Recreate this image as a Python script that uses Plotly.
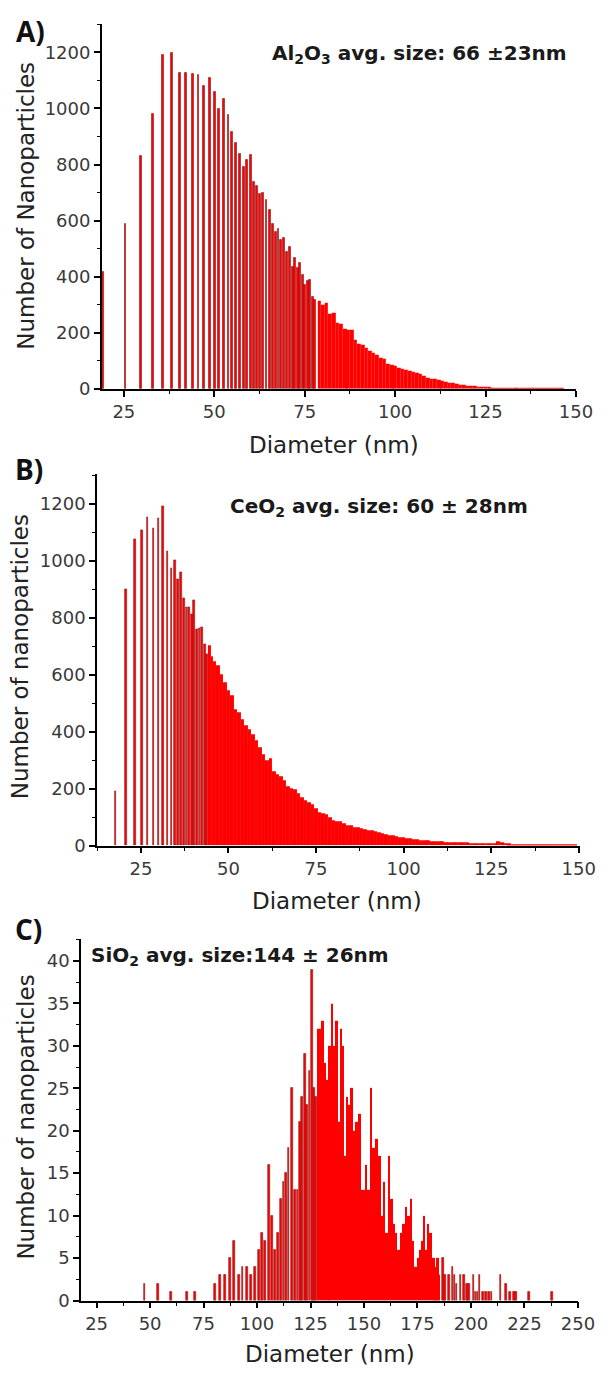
import plotly.graph_objects as go

W, H = 616, 1381

# ---------------- Panel A: Al2O3 ----------------
a_diameter = [
    19.1, 25.4, 29.7, 33.1, 35.8, 38.2, 40.4, 42.2, 44.0, 45.6,
    47.2, 48.7, 50.1, 51.3, 52.6, 53.9, 54.9, 56.0, 57.1, 58.2,
    59.1, 60.0, 60.9, 61.7, 62.6, 63.5, 64.4, 65.3, 66.1, 66.9,
    67.7, 68.5, 69.3, 70.1, 70.9, 71.6, 72.3, 73.0, 73.7, 74.4,
    75.1, 75.8, 76.5, 77.2, 77.9,
    79, 80, 81, 82, 83, 84, 85, 86, 87, 88,
    89, 90, 91, 92, 93, 94, 95, 96, 97, 98,
    99, 100, 101, 102, 103, 104, 105, 106, 107, 108,
    109, 110, 111, 112, 113, 114, 115, 116, 117, 118,
    119, 120, 121, 122, 123, 124, 125, 126, 127, 128,
    129, 130, 131, 132, 133, 134, 135, 136, 137, 138,
    139, 140, 141, 142, 143, 144, 145, 146,
]
a_count = [
    419, 588, 830, 982, 1191, 1200, 1127, 1127, 1124, 1119,
    1082, 1108, 1058, 1000, 1036, 977, 917, 876, 840, 791,
    818, 834, 738, 724, 696, 700, 673, 637, 590, 560,
    572, 530, 537, 490, 508, 437, 466, 430, 449, 407,
    370, 384, 389, 330, 319,
    315, 301, 307, 268, 272, 236, 232, 214, 212, 209,
    175, 160, 156, 146, 136, 128, 122, 112, 106, 90,
    86, 83, 76, 71, 67, 64, 60, 57, 53, 46,
    41, 37, 35, 32, 28, 24, 22, 20, 18, 16,
    13, 12, 12, 10, 9, 8, 8, 7, 5, 5,
    5, 4, 4, 4, 3, 4, 3, 3, 2, 3,
    2, 2, 2, 2, 1, 1, 1, 1,
]

# ---------------- Panel B: CeO2 ----------------
b_diameter = [
    17.7, 20.8, 23.3, 25.2, 26.9, 28.6, 30.0, 31.2, 32.6, 33.7,
    34.7, 35.5, 36.5, 37.2, 38.0, 38.8, 39.5, 40.2, 41.0, 41.7,
    42.5, 43.2, 43.9, 44.6, 45.3, 46.0,
    47, 48, 49, 50, 51, 52, 53, 54, 55, 56,
    57, 58, 59, 60, 61, 62, 63, 64, 65, 66,
    67, 68, 69, 70, 71, 72, 73, 74, 75, 76,
    77, 78, 79, 80, 81, 82, 83, 84, 85, 86,
    87, 88, 89, 90, 91, 92, 93, 94, 95, 96,
    97, 98, 99, 100, 101, 102, 103, 104, 105, 106,
    107, 108, 109, 110, 111, 112, 113, 114, 115, 116,
    117, 118, 119, 120, 121, 122, 123, 124, 125, 126,
    127, 128, 129, 130, 131, 132, 133, 134, 135, 136,
    137, 138, 139, 140, 141, 142, 143, 144, 145, 146,
    147, 148, 149,
]
b_count = [
    192, 901, 1076, 1107, 1153, 1116, 1149, 1193, 1035, 973,
    1003, 936, 959, 870, 837, 837, 814, 860, 758, 762,
    767, 707, 672, 703, 665, 649,
    634, 600, 575, 545, 528, 477, 468, 442, 424, 407,
    390, 370, 345, 322, 300, 308, 262, 250, 245, 228,
    210, 200, 198, 185, 168, 160, 152, 145, 130, 118,
    115, 110, 100, 90, 87, 84, 80, 72, 70, 66,
    64, 60, 58, 55, 52, 50, 47, 43, 40, 37,
    35, 32, 30, 29, 27, 25, 23, 21, 19, 17,
    17, 16, 15, 15, 14, 13, 13, 12, 12, 11,
    10, 10, 9, 9, 9, 8, 8, 8, 9, 8,
    14, 10, 8, 7, 6, 6, 6, 5, 5, 5,
    5, 4, 4, 4, 4, 4, 3, 3, 3, 3,
    3, 2, 2,
]

# ---------------- Panel C: SiO2 ----------------
c_diameter = [
    47.4, 53.6, 59.7, 67.4, 71.1, 80.2, 82.6, 84.9, 87.5, 89.3,
    91.4, 93.2, 95.3, 97.3, 99.1, 100.8, 102.1, 103.8, 105.6, 106.8,
    108.4, 109.9, 111.2, 112.4, 113.5, 114.7, 116.5, 117.7, 118.9, 120.0,
    121.1, 122.3, 123.5, 124.6, 125.6, 126.6, 127.7, 128.9, 130.6, 131.7,
    132.9, 133.9, 134.8, 135.9, 137.2, 138.3, 139.3, 140.2, 141.2, 142.1,
    143.1, 144.2, 145.1, 146.5, 148.0, 149.5, 151.0, 152.1, 153.4, 154.5,
    155.9, 157.1, 158.4, 159.5, 160.5, 161.7, 162.8, 164.0, 165.0, 166.3,
    167.3, 168.5, 169.6, 170.8, 171.8, 173.0, 174.1, 175.2, 176.3, 177.2,
    178.1, 179.0, 179.9, 180.9, 182.6, 183.5, 184.4, 185.3, 187.0, 188.0,
    189.7, 191.5, 192.4, 193.3, 195.1, 196.9, 198.0, 199.2, 201.3, 202.2,
    203.1, 204.0, 205.8, 207.0, 208.5, 209.6, 213.8, 216.5, 218.3, 220.0,
    221.0, 227.2, 237.9,
]
c_count = [
    2, 2, 1, 1, 1, 2, 3, 3, 5, 7,
    3, 4, 4, 3, 4, 6, 8, 7, 16, 10,
    6, 8, 12, 14, 15, 18, 25, 13, 13, 21,
    24, 29, 23, 27, 39, 25, 24, 32, 33, 28,
    26, 30, 35, 30, 33, 21, 32, 30, 17, 24,
    23, 25, 20, 21, 22, 13, 16, 13, 25, 18,
    19, 17, 10, 14, 8, 17, 12, 9, 8, 6,
    8, 9, 11, 10, 12, 7, 4, 5, 6, 7,
    10, 6, 9, 8, 5, 4, 5, 3, 5, 3,
    3, 4, 3, 2, 3, 3, 2, 2, 3, 1,
    1, 3, 1, 1, 1, 1, 3, 2, 1, 1,
    1, 1, 1,
]

BAR_RED = "#ff0000"
EDGE_RED = "#8f1111"


def bar_geometry(diam, solid_lo, solid_hi, thin):
    """Widths/offsets so that bars inside [solid_lo, solid_hi] tile into a
    continuous block, while bars outside stay as thin separated lines."""
    n = len(diam)
    widths, offsets, lws = [], [], []
    for i, d in enumerate(diam):
        prev = diam[i - 1] if i > 0 else None
        nxt = diam[i + 1] if i < n - 1 else None
        if solid_lo <= d <= solid_hi:
            prev_solid = prev is not None and solid_lo <= prev <= solid_hi
            next_solid = nxt is not None and solid_lo <= nxt <= solid_hi
            if prev_solid:
                left = (prev + d) / 2
            else:
                left = d - ((nxt - d) / 2 if nxt is not None else 0.5)
            if next_solid:
                right = (d + nxt) / 2
            else:
                right = d + ((d - prev) / 2 if prev is not None else 0.5)
            left -= 0.01
            right += 0.01
            widths.append(right - left)
            offsets.append(left - d)
            lws.append(0)
        else:
            gaps = []
            if prev is not None:
                gaps.append(d - prev)
            if nxt is not None:
                gaps.append(nxt - d)
            w = min(thin, 0.75 * min(gaps))
            widths.append(w)
            offsets.append(-w / 2)
            lws.append(0.6)
    return widths, offsets, lws


def px_x(p):
    return p / W


def px_y(p):
    return 1 - p / H


fig = go.Figure()

panels = [
    dict(d=a_diameter, c=a_count, solid=(78.5, 151), thin=0.5,
         xd=(104.7, 592.3), yd=(24, 391.7), xr=(18.9, 150), yr=(0, 1302), ydt=200),
    dict(d=b_diameter, c=b_count, solid=(44.3, 151), thin=0.5,
         xd=(99.7, 596.3), yd=(477.7, 851.7), xr=(12.45, 150.3), yr=(0, 1304), ydt=200),
    dict(d=c_diameter, c=c_count, solid=(128.3, 185.5), thin=0.9,
         xd=(83.3, 594.3), yd=(945.7, 1310), xr=(17.7, 250), yr=(0, 42.6), ydt=5),
]

tick_font = dict(family="DejaVu Sans", size=18, color="#3a3a3a")

for k, p in enumerate(panels, start=1):
    w, off, lw = bar_geometry(p["d"], p["solid"][0], p["solid"][1], p["thin"])
    xa = "x" if k == 1 else f"x{k}"
    ya = "y" if k == 1 else f"y{k}"
    fig.add_trace(go.Bar(
        x=p["d"], y=p["c"], width=w, offset=off,
        marker=dict(color=BAR_RED, line=dict(color=EDGE_RED, width=lw)),
        xaxis=xa, yaxis=ya, hoverinfo="x+y", showlegend=False,
    ))
    xkey = "xaxis" if k == 1 else f"xaxis{k}"
    ykey = "yaxis" if k == 1 else f"yaxis{k}"
    fig.layout[xkey] = dict(
        domain=[px_x(p["xd"][0]), px_x(p["xd"][1])],
        range=list(p["xr"]), anchor=ya,
        tick0=0, dtick=25,
        showline=True, linecolor="black", linewidth=1.5,
        ticks="outside", ticklen=6, tickwidth=1.5, tickcolor="black",
        showgrid=False, zeroline=False, tickfont=tick_font,
        minor=dict(ticks="outside", ticklen=3.5, tickwidth=1.2,
                   tickcolor="black", dtick=12.5, tick0=0, showgrid=False),
    )
    fig.layout[ykey] = dict(
        domain=[px_y(p["yd"][1]), px_y(p["yd"][0])],
        range=list(p["yr"]), anchor=xa,
        tick0=0, dtick=p["ydt"],
        showline=True, linecolor="black", linewidth=1.5,
        ticks="outside", ticklen=6, tickwidth=1.5, tickcolor="black",
        showgrid=False, zeroline=False, tickfont=tick_font,
        minor=dict(ticks="outside", ticklen=3.5, tickwidth=1.2,
                   tickcolor="black", dtick=p["ydt"] / 2, tick0=0,
                   showgrid=False),
    )

title_font = dict(family="DejaVu Sans", size=23, color="#222222")
note_font = dict(family="DejaVu Sans", size=20, color="#1a1a1a")
letter_font = dict(family="Open Sans", size=28, color="#111111")

texts = [
    ("<b>A)</b>", 31, 31, letter_font, 0),
    ("<b>B)</b>", 30, 472, letter_font, 0),
    ("<b>C)</b>", 29.5, 936, letter_font, 0),
    ("<b>Al<sub>2</sub>O<sub>3</sub> avg. size: 66 \u00b123nm</b>", 431, 54, note_font, 0),
    ("<b>CeO<sub>2</sub> avg. size: 60 \u00b1 28nm</b>", 390, 511, note_font, 0),
    ("<b>SiO<sub>2</sub> avg. size:144 \u00b1 26nm</b>", 246.6, 963, note_font, 0),
    ("Diameter (nm)", 343, 448, title_font, 0),
    ("Diameter (nm)", 347, 908, title_font, 0),
    ("Diameter (nm)", 339, 1364, title_font, 0),
    ("Number of Nanoparticles", 26.5, 207.5, title_font, -90),
    ("Number of nanoparticles", 20.6, 662, title_font, -90),
    ("Number of nanoparticles", 26.5, 1125, title_font, -90),
]
for txt, x, y, font, ang in texts:
    fig.add_annotation(
        text=txt, x=px_x(x), y=px_y(y), xref="paper", yref="paper",
        xanchor="center", yanchor="middle", showarrow=False,
        font=font, textangle=ang,
    )

fig.update_layout(
    width=W, height=H,
    margin=dict(l=0, r=0, t=0, b=0),
    paper_bgcolor="white", plot_bgcolor="white",
    showlegend=False, bargap=0,
)

fig.write_html("out.html")
